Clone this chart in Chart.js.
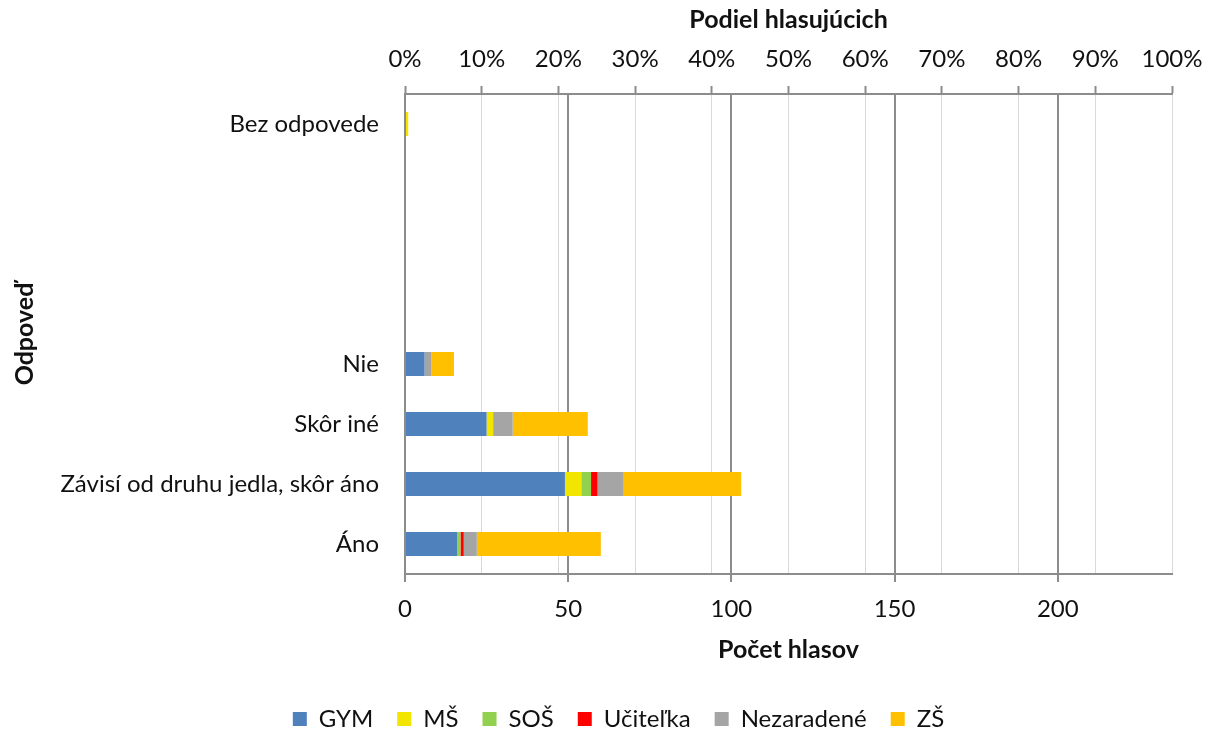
<!DOCTYPE html>
<html>
<head>
<meta charset="utf-8">
<script src="https://cdn.jsdelivr.net/npm/chart.js@4.4.1/dist/chart.umd.min.js"></script>
<style>
  body { margin: 0; background: #fff; }
</style>
</head>
<body>
<canvas id="barChart" width="1207" height="734"></canvas>
<script>
const odpovede = ["Bez odpovede", "", "", "", "Nie", "Skôr iné", "Závisí od druhu jedla, skôr áno", "Áno"];
const gym = [0, 0, 0, 0, 6, 25, 49, 16];
const ms = [1, 0, 0, 0, 0, 2, 5, 0];
const sos = [0, 0, 0, 0, 0, 0, 3, 1];
const ucitelka = [0, 0, 0, 0, 0, 0, 2, 1];
const nezaradene = [0, 0, 0, 0, 2, 6, 8, 4];
const zs = [0, 0, 0, 0, 7, 23, 36, 38];
const percentTicks = [0, 10, 20, 30, 40, 50, 60, 70, 80, 90, 100];

// spolu hlasov = 100 % hornej osi
const spolu = [gym, ms, sos, ucitelka, nezaradene, zs]
  .flat()
  .reduce((a, b) => a + b, 0);

const font = "Lato, 'Open Sans', sans-serif";
const axisGray = "#8c8c8c";

const dados = {
  labels: odpovede,
  datasets: [
    { label: "GYM", data: gym, backgroundColor: "#4f81bd" },
    { label: "MŠ", data: ms, backgroundColor: "#f2e600" },
    { label: "SOŠ", data: sos, backgroundColor: "#92d050" },
    { label: "Učiteľka", data: ucitelka, backgroundColor: "#ff0000" },
    { label: "Nezaradené", data: nezaradene, backgroundColor: "#a5a5a5" },
    { label: "ZŠ", data: zs, backgroundColor: "#ffc000" },
  ],
};

const config = {
  type: "bar",
  data: dados,
  options: {
    indexAxis: "y",
    responsive: false,
    animation: false,
    devicePixelRatio: 1,
    barPercentage: 0.4,
    categoryPercentage: 1,
    layout: { padding: { left: 30, right: 0, top: 0, bottom: -7 } },
    plugins: {
      tooltip: { enabled: false },
      legend: {
        position: "bottom",
        labels: {
          boxWidth: 14,
          boxHeight: 14,
          padding: 24,
          color: "#111",
          font: { family: font, size: 24 },
        },
      },
    },
    scales: {
      x: {
        position: "bottom",
        stacked: true,
        min: 0,
        max: spolu,
        grid: {
          color: axisGray,
          lineWidth: 2,
          tickColor: axisGray,
          tickWidth: 2,
          tickLength: 8,
        },
        border: { color: axisGray, width: 2 },
        ticks: {
          stepSize: 50,
          includeBounds: false,
          padding: 12.5,
          color: "#111",
          font: { family: font, size: 24 },
        },
        title: {
          display: true,
          text: "Počet hlasov",
          color: "#111",
          font: { family: font, size: 25, weight: "bold" },
          padding: { top: 0, bottom: 18 },
        },
        afterFit: (s) => { s.height = 109; },
      },
      x2: {
        axis: "x",
        type: "linear",
        position: "top",
        min: 0,
        max: 100,
        grid: {
          color: "#d9d9d9",
          lineWidth: 1,
          tickColor: axisGray,
          tickWidth: 2,
          tickLength: 8,
        },
        border: { color: axisGray, width: 2 },
        afterBuildTicks: (s) => { s.ticks = percentTicks.map((v) => ({ value: v })); },
        ticks: {
          padding: 12.5,
          color: "#111",
          font: { family: font, size: 24 },
          callback: (v) => v + "%",
        },
        title: {
          display: true,
          text: "Podiel hlasujúcich",
          color: "#111",
          font: { family: font, size: 25, weight: "bold" },
          padding: { top: 4.5, bottom: 0 },
        },
        afterFit: (s) => {
          s.height = 94;
          s.paddingRight = 35; // pravý okraj grafu
        },
      },
      y: {
        stacked: true,
        grid: { display: false, drawTicks: false },
        border: { color: axisGray, width: 2 },
        ticks: {
          padding: 26,
          color: "#111",
          font: { family: font, size: 24 },
        },
        title: {
          display: true,
          text: "Odpoveď",
          color: "#111",
          font: { family: font, size: 25, weight: "bold" },
          padding: { top: -20, bottom: 0 },
        },
        afterFit: (s) => { s.width = 375; },
      },
    },
  },
};

const ctx = document.getElementById("barChart").getContext("2d");
const myChart = new Chart(ctx, config);
</script>
</body>
</html>
